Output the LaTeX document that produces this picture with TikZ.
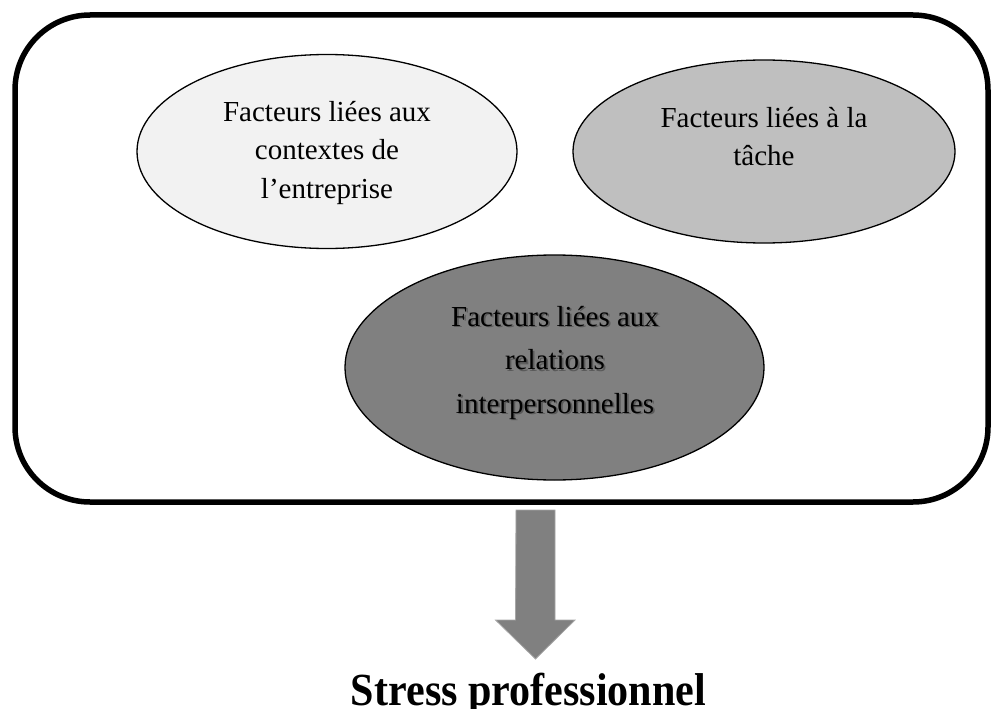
\documentclass[tikz,border=0pt]{standalone}
\usepackage{fontspec}
\usepackage{graphicx}
\setmainfont{Liberation Serif}
\usetikzlibrary{shapes.geometric}
\definecolor{efillA}{HTML}{F2F2F2}
\definecolor{efillB}{HTML}{BFBFBF}
\definecolor{efillC}{HTML}{808080}
\definecolor{shadowgray}{HTML}{5A5A5A}
\newcommand\shadowed[1]{\makebox[0pt][l]{\kern1.8pt\raisebox{-1.8pt}{\textcolor{shadowgray}{#1}}}#1}
\begin{document}
\begin{tikzpicture}[x=1pt,y=-1pt,
  frame/.style={draw=black, line width=5.5pt, rounded corners=75pt, inner sep=0pt},
  bubble/.style={ellipse, draw=black, line width=1.3pt, inner sep=0pt},
  bubbletext/.style={align=center, inner sep=0pt, font=\fontsize{29}{38.5}\selectfont},
  bubbletextwide/.style={align=center, inner sep=0pt, font=\fontsize{29}{43.5}\selectfont},
  bigarrow/.style={fill=efillC, draw=gray!70, line width=0.8pt},
  titletext/.style={font=\bfseries\fontsize{46}{50}\selectfont, inner sep=0pt, anchor=base}]
\useasboundingbox (0,0) rectangle (991,709);
% outer frame
\node[frame, minimum width=973pt, minimum height=487pt] (box) at (501.5,258.5) {};
% ellipses
\node[bubble, fill=efillA, minimum width=380pt, minimum height=194pt] (e1) at (327,151.5) {};
\node[bubble, fill=efillB, minimum width=382pt, minimum height=183pt] (e2) at (764,151.5) {};
\node[bubble, fill=efillC, minimum width=419pt, minimum height=225pt] (e3) at (554.5,367.5) {};
% texts
\node[bubbletext] (t1) at (327,152.7) {Facteurs liées aux\\contextes de\\l’entreprise};
\node[bubbletext] (t2) at (764,136.5) {Facteurs liées à la\\tâche};
\node[bubbletextwide] (t3) at (555,363.5) {\shadowed{Facteurs liées aux}\\\shadowed{relations}\\\shadowed{interpersonnelles}};
% result
\node[titletext] (stress) at (528.5,705) {\scalebox{0.915}[1]{Stress professionnel}};
% block arrow
\coordinate (astart) at (535.5,510);
\coordinate (atip) at (535.5,659);
\draw[bigarrow] (astart) ++(-19.5,0) -- ++(39,0) -- ++(0,110) -- ++(20,0) -- (atip) -- ++(-40,-39) -- ++(20,0) -- cycle;
\end{tikzpicture}
\end{document}
